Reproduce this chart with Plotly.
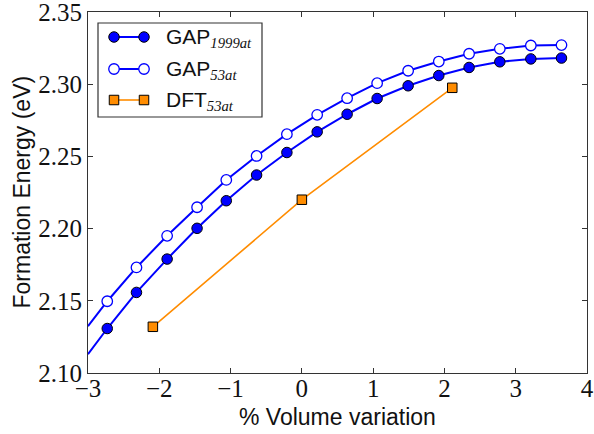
import plotly.graph_objects as go

# ---------------- data ----------------
x_gap = [-2.73, -2.32, -1.89, -1.47, -1.06, -0.635, -0.21, 0.215, 0.635, 1.056, 1.491, 1.921, 2.346, 2.777, 3.212, 3.642]
y_gap1999 = [2.1308, 2.1558, 2.1789, 2.2002, 2.2193, 2.2371, 2.2527, 2.2670, 2.2792, 2.2901, 2.2989, 2.3060, 2.3116, 2.3155, 2.3175, 2.3181]
y_gap53 = [2.1497, 2.1731, 2.1950, 2.2148, 2.2337, 2.2503, 2.2654, 2.2788, 2.2903, 2.3007, 2.3093, 2.3157, 2.3211, 2.3245, 2.3268, 2.3271]
# the lines continue to the left edge of the axes
x_edge = -3.0
y_gap1999_edge = 2.1130
y_gap53_edge = 2.1324

x_dft = [-2.09, 0.0, 2.11]
y_dft = [2.132, 2.220, 2.2975]

x_ticks = [-3, -2, -1, 0, 1, 2, 3, 4]
y_ticks = [2.10, 2.15, 2.20, 2.25, 2.30, 2.35]

legend_main = ["GAP", "GAP", "DFT"]
legend_sub = ["1999at", "53at", "53at"]

# ---------------- style ----------------
BLUE = "#0000ff"
ORANGE = "#ff8c00"
SERIF = "Liberation Serif"
SANS = "Liberation Sans"
INK = "#111111"
AX = "#333333"

W, H = 594, 434
# plot area in pixels
L, R, T, B = 88, 587, 12, 373

fig = go.Figure()

# lines (incl. extension to the left edge)
fig.add_trace(go.Scatter(x=[x_edge] + x_gap, y=[y_gap53_edge] + y_gap53, mode="lines",
                         line=dict(color=BLUE, width=2), hoverinfo="skip"))
fig.add_trace(go.Scatter(x=[x_edge] + x_gap, y=[y_gap1999_edge] + y_gap1999, mode="lines",
                         line=dict(color=BLUE, width=2), hoverinfo="skip"))
fig.add_trace(go.Scatter(x=x_dft, y=y_dft, mode="lines",
                         line=dict(color=ORANGE, width=1.6), hoverinfo="skip"))

mk_filled = dict(symbol="circle", size=10.5, color=BLUE, line=dict(color="#000000", width=1))
mk_open = dict(symbol="circle", size=10.5, color="white", line=dict(color=BLUE, width=1.3))
mk_sq = dict(symbol="square", size=9.5, color=ORANGE, line=dict(color="#000000", width=1))

fig.add_trace(go.Scatter(x=x_gap, y=y_gap1999, mode="markers", marker=mk_filled))
fig.add_trace(go.Scatter(x=x_gap, y=y_gap53, mode="markers", marker=mk_open))
fig.add_trace(go.Scatter(x=x_dft, y=y_dft, mode="markers", marker=mk_sq))

# ---------------- custom legend (pixel overlay axes) ----------------
leg_box = (98, 23, 262, 117)
row_y = [37, 69, 100]
sx0, sx1 = 114, 144
tx = 164
fig.add_shape(type="rect", xref="x2", yref="y2", x0=leg_box[0], y0=leg_box[1], x1=leg_box[2], y1=leg_box[3],
              line=dict(color=AX, width=1.2), fillcolor="white", layer="below")
leg_markers = [mk_filled, mk_open, mk_sq]
leg_colors = [BLUE, BLUE, ORANGE]
leg_widths = [2, 2, 1.6]
for i, ry in enumerate(row_y):
    fig.add_shape(type="line", xref="x2", yref="y2", x0=sx0, x1=sx1, y0=ry, y1=ry,
                  line=dict(color=leg_colors[i], width=leg_widths[i]), layer="below")
    fig.add_trace(go.Scatter(x=[sx0, sx1], y=[ry, ry], xaxis="x2", yaxis="y2", mode="markers",
                             marker=leg_markers[i], hoverinfo="skip"))
    fig.add_annotation(xref="x2", yref="y2", x=tx, y=ry + 1, xanchor="left", yanchor="middle",
                       showarrow=False,
                       text=(f"{legend_main[i]}"
                             f"<sub><span style=\"font-family:'{SERIF}', serif;font-style:italic\">{legend_sub[i]}</span></sub>"),
                       font=dict(family=SANS, size=21, color=INK))

# ---------------- axis titles ----------------
fig.add_annotation(xref="paper", yref="paper", x=0.5, y=-(417 - B) / (B - T), xanchor="center", yanchor="middle",
                   showarrow=False, text="% Volume variation", font=dict(family=SANS, size=23, color=INK))
fig.add_annotation(xref="paper", yref="paper", x=-(L - 21) / (R - L), y=0.5, xanchor="center", yanchor="middle",
                   showarrow=False, textangle=-90, text="Formation Energy (eV)",
                   font=dict(family=SANS, size=23, color=INK))

axis_common = dict(
    showgrid=False, zeroline=False, showline=True, linecolor=AX, linewidth=1.2,
    mirror="allticks", ticks="inside", ticklen=5, tickcolor=AX, tickwidth=1,
    tickfont=dict(family=SERIF, size=25, color=INK), automargin=False,
    ticklabeloverflow="allow",
)

fig.update_layout(
    width=W, height=H,
    margin=dict(l=L, r=W - R, t=T, b=H - B),
    plot_bgcolor="white", paper_bgcolor="white",
    showlegend=False,
    xaxis=dict(range=[-3, 4 + 1e-9], tickvals=x_ticks, ticklabelstandoff=-7, **axis_common),
    yaxis=dict(range=[2.10 - 1e-9, 2.35 + 1e-9], tickvals=y_ticks, tickformat=".2f",
               ticklabelstandoff=0, **axis_common),
    xaxis2=dict(overlaying="x", range=[L, R], visible=False, fixedrange=True),
    yaxis2=dict(overlaying="y", range=[B, T], visible=False, fixedrange=True),
)

# remove the default 8px page margin so the figure sits at the window's corner
fig.write_html("out.html", config={"displayModeBar": False},
               post_script="document.body.style.margin='0px';")
